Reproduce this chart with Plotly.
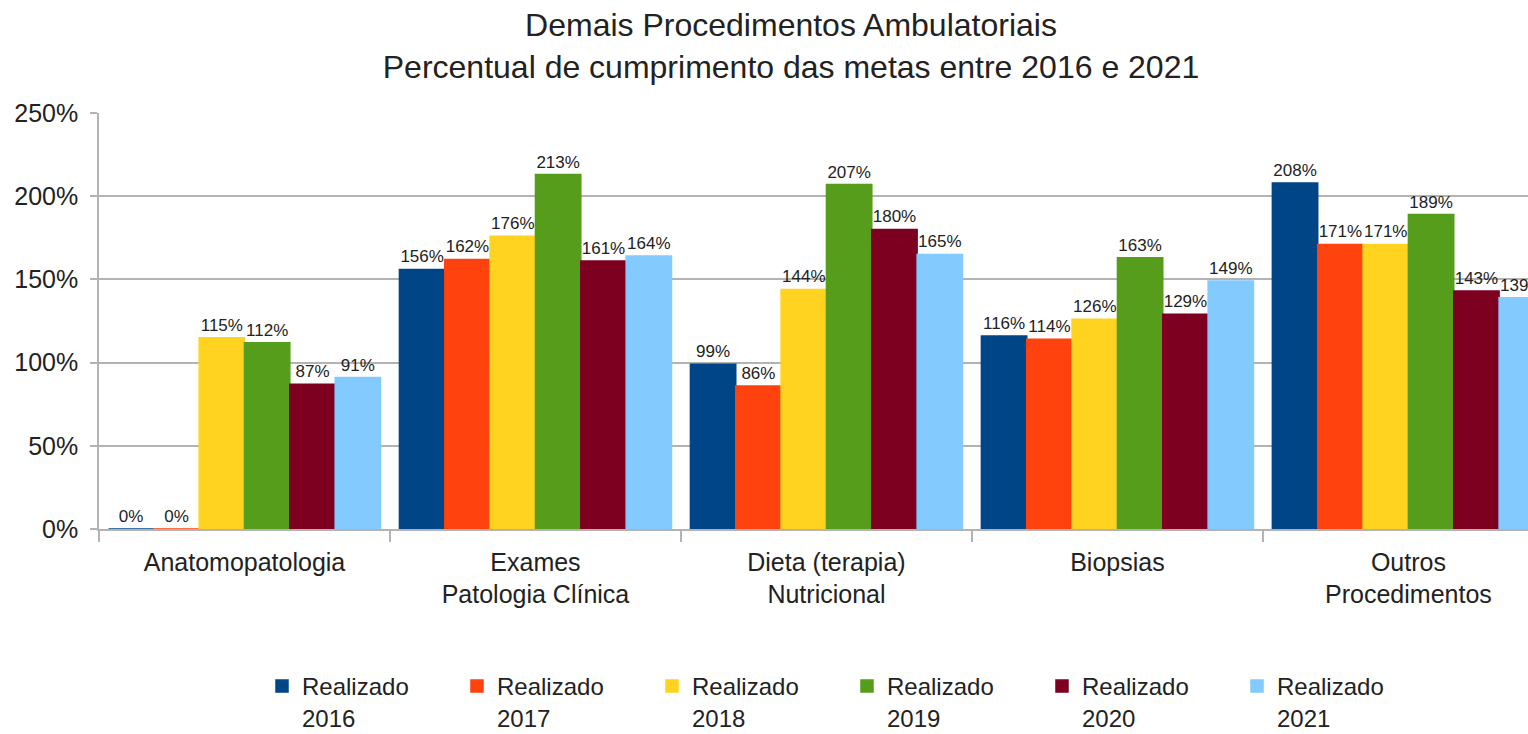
import plotly.graph_objects as go

categories = ["Anatomopatologia", "Exames<br>Patologia Clínica", "Dieta (terapia)<br>Nutricional",
              "Biopsias", "Outros<br>Procedimentos"]
series_names = ["Realizado<br>2016", "Realizado<br>2017", "Realizado<br>2018",
                "Realizado<br>2019", "Realizado<br>2020", "Realizado<br>2021"]
v2016 = [0, 156, 99, 116, 208]
v2017 = [0, 162, 86, 114, 171]
v2018 = [115, 176, 144, 126, 171]
v2019 = [112, 213, 207, 163, 189]
v2020 = [87, 161, 180, 129, 143]
v2021 = [91, 164, 165, 149, 139]
series_values = [v2016, v2017, v2018, v2019, v2020, v2021]
colors = ["#004586", "#ff420e", "#ffd320", "#579d1c", "#7e0021", "#83caff"]
y_ticks = [0, 50, 100, 150, 200, 250]
y_tick_labels = [f"{v}%" for v in y_ticks]

FONT = "Liberation Sans, Arial, sans-serif"
W, H = 1528, 734
L, R, T, B = 99, 0, 113, 205
PW, PH = W - L - R, H - T - B

fig = go.Figure()
for name, vals, col in zip(series_names, series_values, colors):
    fig.add_trace(go.Bar(
        x=categories, y=vals, name=name,
        marker=dict(color=col, line=dict(color=col, width=1.5)),
        text=vals, texttemplate="%{y:.0f}%", textposition="outside",
        textfont=dict(family=FONT, size=17, color="#222222"),
        constraintext="none", cliponaxis=True,
    ))

fig.update_layout(
    width=W, height=H,
    margin=dict(l=L, r=R, t=T, b=B, pad=0, autoexpand=False),
    paper_bgcolor="white", plot_bgcolor="white",
    barmode="group", bargap=0.065, bargroupgap=0,
    font=dict(family=FONT, color="#222222"),
    title=dict(
        text="Demais Procedimentos Ambulatoriais<br>Percentual de cumprimento das metas entre 2016 e 2021",
        x=791 / W, xanchor="center", y=1 - 36 / H, yanchor="top",
        font=dict(family=FONT, size=32, color="#222222"),
    ),
    xaxis=dict(
        range=[-0.5, 4.411], showgrid=False, automargin=False,
        showline=True, linecolor="#b3b3b3", linewidth=1.5,
        ticks="outside", tickson="boundaries", ticklen=11, tickcolor="#b3b3b3", tickwidth=1.5,
        ticklabelstandoff=10,
        tickfont=dict(family=FONT, size=25, color="#222222"),
    ),
    yaxis=dict(
        range=[0, 250], tickmode="array", tickvals=y_ticks, ticktext=y_tick_labels,
        showgrid=True, gridcolor="#b3b3b3", gridwidth=1.5, automargin=False,
        showline=True, linecolor="#b3b3b3", linewidth=1.5,
        ticks="outside", ticklen=7, tickcolor="#b3b3b3", tickwidth=1.5,
        ticklabelstandoff=7,
        tickfont=dict(family=FONT, size=25, color="#222222"),
        zeroline=False,
    ),
    legend=dict(
        orientation="h", x=(262 - L) / PW, xanchor="left",
        y=(529 - 664) / PH, yanchor="top",
        entrywidth=150, entrywidthmode="pixels",
        valign="top", font=dict(family=FONT, size=24, color="#222222"),
        tracegroupgap=0, itemwidth=30,
    ),
    showlegend=True,
)

fig.write_html(
    "out.html",
    config={"displayModeBar": False},
    post_script="document.body.style.margin='0';document.body.style.overflow='hidden';",
)
